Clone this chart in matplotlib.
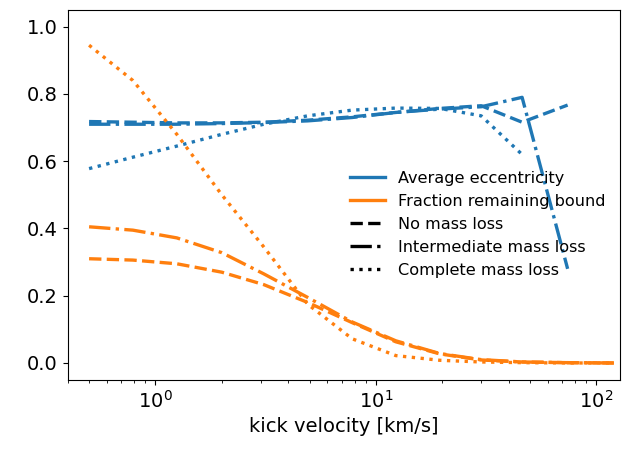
import numpy as np
import matplotlib
matplotlib.use("Agg")
import matplotlib.pyplot as plt
from matplotlib.lines import Line2D

# kick velocities [km/s]
v_kick = [0.5, 0.79, 1.25, 2.0, 3.1, 4.9, 7.8, 12.3, 19.5, 30.0, 46.0, 74.0, 120.0]

# average eccentricity
ecc_none = [0.718, 0.716, 0.714, 0.714, 0.716, 0.722, 0.732, 0.745, 0.757, 0.765, 0.716, 0.767]
ecc_inter = [0.71, 0.71, 0.71, 0.712, 0.715, 0.72, 0.73, 0.745, 0.755, 0.762, 0.79, 0.28]
ecc_full = [0.578, 0.612, 0.645, 0.68, 0.71, 0.735, 0.752, 0.758, 0.757, 0.735, 0.62]

# fraction remaining bound
frac_none = [0.31, 0.306, 0.295, 0.27, 0.233, 0.18, 0.12, 0.063, 0.027, 0.009, 0.003, 0.001, 0.0]
frac_inter = [0.405, 0.395, 0.372, 0.328, 0.265, 0.195, 0.122, 0.066, 0.028, 0.01, 0.003, 0.001, 0.0]
frac_full = [0.945, 0.84, 0.68, 0.50, 0.345, 0.175, 0.072, 0.022, 0.008, 0.003, 0.001, 0.0, 0.0]

c_ecc = '#1f77b4'
c_frac = '#ff7f0e'
lw = 2.4

fig = plt.figure(figsize=(6.27, 4.5), dpi=100)
ax = fig.add_axes([0.108, 0.156, 0.881, 0.822])

ax.plot(v_kick[:len(ecc_none)], ecc_none, ls='--', color=c_ecc, lw=lw)
ax.plot(v_kick[:len(ecc_inter)], ecc_inter, ls='-.', color=c_ecc, lw=lw)
ax.plot(v_kick[:len(ecc_full)], ecc_full, ls=':', color=c_ecc, lw=lw)

ax.plot(v_kick, frac_none, ls='--', color=c_frac, lw=lw)
ax.plot(v_kick, frac_inter, ls='-.', color=c_frac, lw=lw)
ax.plot(v_kick, frac_full, ls=':', color=c_frac, lw=lw)

ax.set_xscale('log')
ax.set_xlim(0.4, 128)
ax.set_ylim(-0.05, 1.05)
ax.set_xlabel('kick velocity [km/s]', fontsize=14)
ax.tick_params(labelsize=14)

handles = [
    Line2D([], [], color=c_ecc, lw=lw, label='Average eccentricity'),
    Line2D([], [], color=c_frac, lw=lw, label='Fraction remaining bound'),
    Line2D([], [], color='k', lw=lw, ls='--', label='No mass loss'),
    Line2D([], [], color='k', lw=lw, ls='-.', label='Intermediate mass loss'),
    Line2D([], [], color='k', lw=lw, ls=':', label='Complete mass loss'),
]
ax.legend(handles=handles, loc='center right', bbox_to_anchor=(1.0, 0.42),
          frameon=False, fontsize=11.6, handlelength=2.2, labelspacing=0.5)

plt.savefig('out.png', dpi=100)
